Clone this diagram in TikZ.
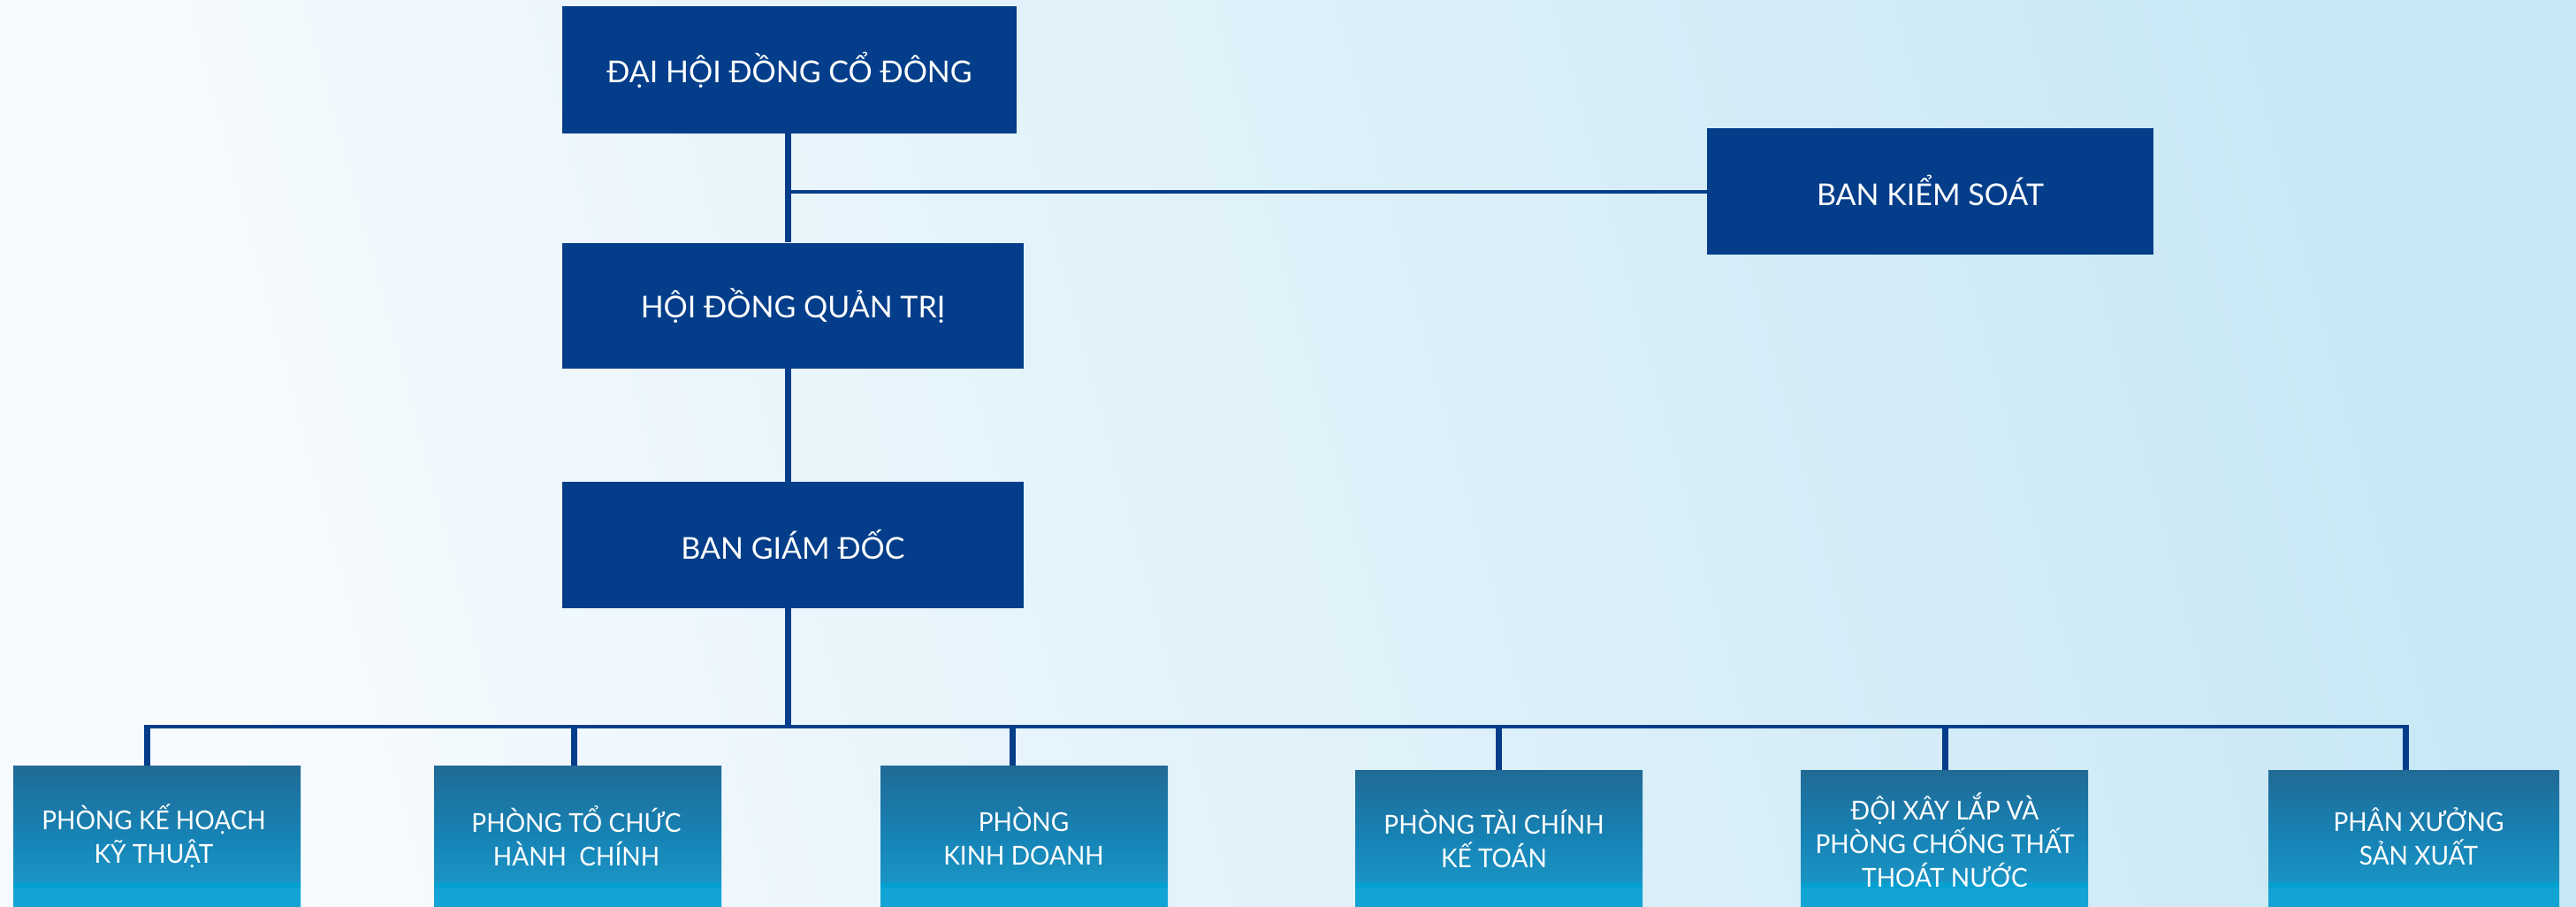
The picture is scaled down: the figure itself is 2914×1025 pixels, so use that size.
\documentclass[tikz,border=0pt]{standalone}
\usepackage{fontspec}
\setmainfont{Lato}
\newfontfamily\condfont{Lato}[FakeStretch=0.95]
\usetikzlibrary{calc}
\definecolor{navy}{HTML}{043E8A}
\definecolor{bgL}{HTML}{F7FBFE}
\definecolor{bgR}{HTML}{C8E7F5}
\definecolor{bxTop}{HTML}{216A96}
\definecolor{bxMid}{HTML}{1683B5}
\definecolor{bxLow}{HTML}{1C9DCC}
\definecolor{bxStripe}{HTML}{03A0D0}
\definecolor{bxBot}{HTML}{12A4D4}
\tikzset{
  topbox/.style={fill=navy, text=white, minimum width=#1, minimum height=143pt,
    inner sep=0pt, font=\fontsize{34}{40}\selectfont},
  deptbox/.style={minimum width=325pt, minimum height=#1, inner sep=0pt, anchor=north,
    top color=bxTop, bottom color=bxLow, middle color=bxMid,
    path picture={
      \fill[bxBot] (path picture bounding box.south west) rectangle ([yshift=20pt]path picture bounding box.south east);
      \fill[bxStripe] ([yshift=20pt]path picture bounding box.south west) rectangle ([yshift=27pt]path picture bounding box.south east);
    }},
  depttext/.style={text=white, align=center, inner sep=0pt,
    font=\condfont\fontsize{29.5}{38}\selectfont},
  thick line/.style={draw=navy, line width=7pt},
  thin line/.style={draw=navy, line width=4pt}
}
\begin{document}
\begin{tikzpicture}[x=1pt,y=-1pt]
\useasboundingbox (0,0) rectangle (2914,1025);
\shade[left color=bgL, right color=bgR, shading angle=105] (0,0) rectangle (2914,1025);

% top boxes
\node[topbox=514pt] (dhd) at (893,79) {\raisebox{3pt}{ĐẠI HỘI ĐỒNG CỔ ĐÔNG}};
\node[topbox=505pt] (bks) at (2183.5,216.5) {\raisebox{3pt}{BAN KIỂM SOÁT}};
\node[topbox=522pt, minimum height=142pt] (hdqt) at (897,345.5) {\raisebox{-8pt}{HỘI ĐỒNG QUẢN TRỊ}};
\node[topbox=522pt] (bgd) at (897,616.5) {\raisebox{-2pt}{BAN GIÁM ĐỐC}};

% department boxes
\node[deptbox=159pt] (b1) at (177.5,866) {};
\node[deptbox=159pt] (b2) at (653.5,866) {};
\node[deptbox=159pt] (b3) at (1158.5,866) {};
\node[deptbox=154pt] (b4) at (1695.5,871) {};
\node[deptbox=154pt] (b5) at (2199.5,871) {};
\node[deptbox=154pt, minimum width=329pt] (b6) at (2730.5,871) {};

\node[depttext] (t1) at (174,946) {PHÒNG KẾ HOẠCH\\KỸ THUẬT};
\node[depttext] (t2) at (652,946) {PHÒNG TỔ CHỨC\\HÀNH\ \ CHÍNH};
\node[depttext] (t3) at (1158,946) {PHÒNG\\KINH DOANH};
\node[depttext] (t4) at (1690,949) {PHÒNG TÀI CHÍNH\\KẾ TOÁN};
\node[depttext] (t5) at (2200,950) {ĐỘI XÂY LẮP VÀ\\PHÒNG CHỐNG THẤT\\THOÁT NƯỚC};
\node[depttext] (t6) at (2736,946) {PHÂN XƯỞNG\\SẢN XUẤT};

% connectors
\coordinate (trunk) at (891,0);
\coordinate (busL) at (163,822);
\coordinate (busR) at (2723,822);
\draw[thick line] (trunk |- dhd.south) -- (trunk |- hdqt.north);
\draw[thin line] (trunk |- bks.west) -- (bks.west);
\draw[thick line] (trunk |- hdqt.south) -- (trunk |- bgd.north);
\draw[thick line] (trunk |- bgd.south) -- (891,824);
\draw[thin line] (busL) -- (busR);
\coordinate (d1) at (166.5,820);
\coordinate (d2) at (649,820);
\coordinate (d3) at (1145,820);
\coordinate (d4) at (1695,820);
\coordinate (d5) at (2200,820);
\coordinate (d6) at (2721.5,820);
\foreach \i in {1,...,6} {
  \draw[thick line] (d\i) -- (d\i |- b\i.north);
}
\end{tikzpicture}
\end{document}
